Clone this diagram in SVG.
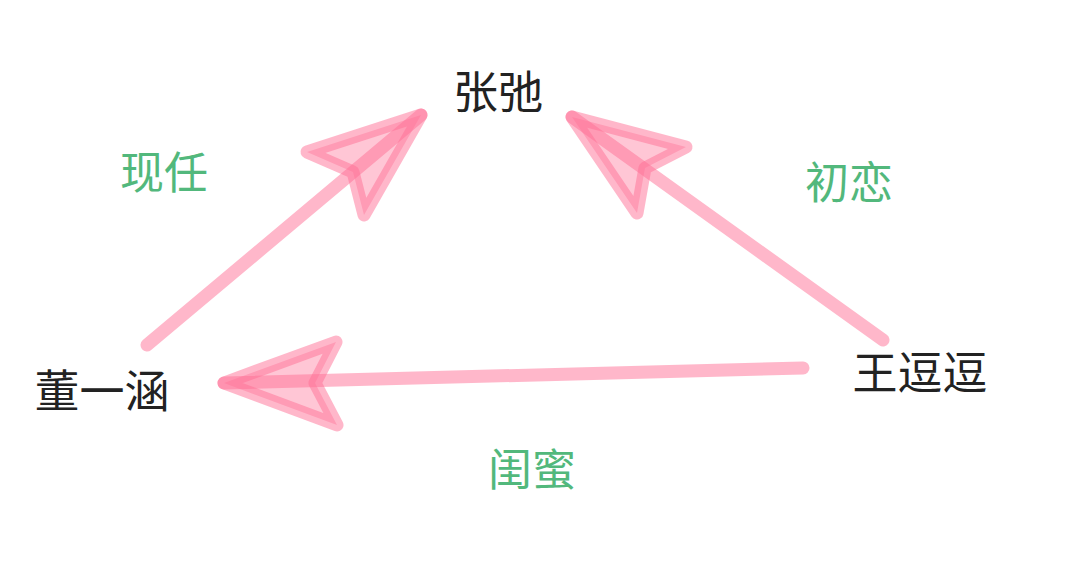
<svg xmlns="http://www.w3.org/2000/svg" width="1080" height="562" viewBox="0 0 1080 562">
<style>
.node{font-family:"Noto Sans CJK SC","Noto Sans",sans-serif;font-size:45px;fill:#222;text-anchor:middle;dominant-baseline:central}
.lbl{font-family:"Noto Sans CJK SC","Noto Sans",sans-serif;font-size:44px;fill:#52b87c;text-anchor:middle;dominant-baseline:central}
.shaft{stroke:#ff7096;stroke-opacity:0.5;stroke-width:13;stroke-linecap:round;fill:none}
.head{stroke:#ff7096;stroke-opacity:0.5;stroke-width:13;stroke-linejoin:round;fill:#ff7096;fill-opacity:0.4}
</style>
<rect width="1080" height="562" fill="#ffffff"/>
<g id="connectors">
<g id="e1">
<line class="shaft" x1="147" y1="345" x2="421" y2="115"/>
<polygon class="head" points="421,115 307,152 353,172 364,215"/>
<text class="lbl" x="164" y="170">现任</text>
</g>
<g id="e2">
<line class="shaft" x1="883" y1="340" x2="572" y2="117"/>
<polygon class="head" points="572,117 686,147 645,168 637,213"/>
<text class="lbl" x="849" y="180">初恋</text>
</g>
<g id="e3">
<line class="shaft" x1="803" y1="368" x2="224" y2="383"/>
<polygon class="head" points="224,383 336,342 315,383 337,425"/>
<text class="lbl" x="532" y="467">闺蜜</text>
</g>
</g>
<g id="n-zhangchi"><text class="node" x="498" y="89">张弛</text></g>
<g id="n-dongyihan"><text class="node" x="102" y="388">董一涵</text></g>
<g id="n-wangdoudou"><text class="node" x="920" y="370">王逗逗</text></g>
</svg>
